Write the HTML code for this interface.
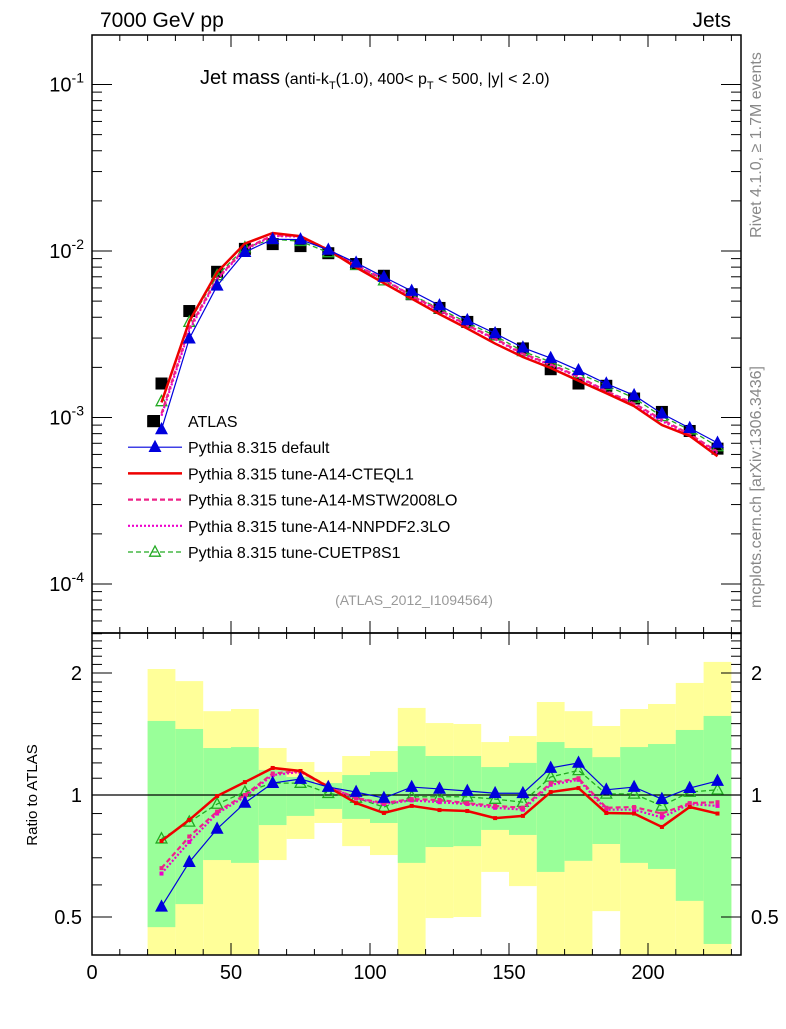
<!DOCTYPE html>
<html><head><meta charset="utf-8"><style>
body{margin:0;background:#fff;}
svg{font-family:"Liberation Sans",Arial,sans-serif;}
</style></head><body>
<svg id="c" width="786" height="1024" viewBox="0 0 786 1024" xmlns="http://www.w3.org/2000/svg">
<text x="100" y="27" font-size="21">7000 GeV pp</text>
<text x="731" y="27" font-size="21" text-anchor="end">Jets</text>
<text transform="translate(761,145) rotate(-90)" font-size="16" fill="#888" text-anchor="middle">Rivet 4.1.0, ≥ 1.7M events</text>
<text transform="translate(761,487) rotate(-90)" font-size="16" fill="#888" text-anchor="middle">mcplots.cern.ch [arXiv:1306.3436]</text>
<g id="bands"></g><g id="marks"></g><g id="axes"></g>
</svg>
<script>
const xCenters=[25,35,45,55,65,75,85,95,105,115,125,135,145,155,165,175,185,195,205,215,225];
const binLo=[20,30,40,50,60,70,80,90,100,110,120,130,140,150,160,170,180,190,200,210,220];
const atlas=[1.6e-3,4.36e-3,7.5e-3,1.03e-2,1.1e-2,1.07e-2,9.7e-3,8.35e-3,7.1e-3,5.5e-3,4.55e-3,3.75e-3,3.17e-3,2.6e-3,1.95e-3,1.6e-3,1.55e-3,1.3e-3,1.08e-3,8.3e-4,6.5e-4];
const atlasExtraX=[22];
const atlasExtraY=[9.5e-4];
const rDefault=[0.53,0.683,0.825,0.956,1.07,1.095,1.046,1.017,0.983,1.046,1.035,1.023,1.01,1.01,1.166,1.2,1.03,1.046,0.977,1.04,1.083];
const rCTEQ=[0.77,0.868,0.994,1.076,1.166,1.146,1.046,0.955,0.903,0.94,0.918,0.913,0.877,0.888,1.017,1.04,0.903,0.9,0.834,0.934,0.9];
const rMSTW=[0.66,0.79,0.91,1.0,1.13,1.146,1.05,0.983,0.955,0.977,0.972,0.955,0.94,0.93,1.07,1.1,0.93,0.934,0.9,0.955,0.96];
const rNNPDF=[0.64,0.766,0.9,0.99,1.12,1.14,1.05,0.98,0.95,0.97,0.96,0.95,0.93,0.92,1.06,1.09,0.92,0.92,0.88,0.95,0.94];
const rCUETP=[0.78,0.858,0.95,1.017,1.07,1.07,1.01,0.983,0.934,0.99,0.99,0.99,0.977,0.96,1.108,1.15,1.006,1.006,0.94,1.017,1.03];
const yelTop=[2.046,1.91,1.61,1.63,1.306,1.206,1.14,1.248,1.284,1.64,1.505,1.497,1.351,1.398,1.696,1.61,1.48,1.63,1.677,1.89,2.13];
const grnTop=[1.523,1.455,1.306,1.313,1.153,1.108,1.07,1.12,1.14,1.32,1.248,1.248,1.172,1.2,1.351,1.306,1.24,1.313,1.336,1.447,1.567];
const grnBot=[0.472,0.538,0.691,0.68,0.843,0.888,0.924,0.873,0.853,0.68,0.744,0.748,0.82,0.797,0.646,0.688,0.757,0.68,0.657,0.548,0.429];
const yelBot=[0.3,0.3,0.3,0.3,0.691,0.779,0.853,0.748,0.711,0.3,0.497,0.5,0.646,0.596,0.3,0.3,0.517,0.3,0.3,0.3,0.3];
const xTicks=[0,50,100,150,200];

const NS="http://www.w3.org/2000/svg";
const L=92,R=741,T1=35,B1=633,T2=633,B2=955;
const X=v=>L+v*2.78;
const Y1=v=>251-(Math.log10(v)+2)*166.5;
const Y2=r=>795-Math.log2(r)*122;
function el(tag,at,parent){const e=document.createElementNS(NS,tag);for(const k in at)e.setAttribute(k,at[k]);parent.appendChild(e);return e;}
const bands=document.getElementById('bands'),marks=document.getElementById('marks'),axes=document.getElementById('axes');

binLo.forEach((lo,i)=>{
 const x0=X(lo),w=X(lo+10)-x0;
 const yt=Y2(yelTop[i]),yb=Math.min(B2,Y2(yelBot[i]));
 let e=el('rect',{x:x0,y:yt,width:w,height:yb-yt,fill:'#ffff99'},bands);
 
 
 const gt=Y2(grnTop[i]),gb=Math.min(B2,Y2(grnBot[i]));
 e=el('rect',{x:x0,y:gt,width:w,height:gb-gt,fill:'#99ff99'},bands);
 
 
});
let one=el('line',{x1:L,x2:R,y1:Y2(1),y2:Y2(1),stroke:'#000','stroke-width':1.3},bands);



const series=[
 {r:rCUETP,c:'#22aa22',w:1.3,d:'5,3',m:'open',n:'cuetp8s1'},
 {r:rNNPDF,c:'#ee00cc',w:2.2,d:'2,2',m:'none',n:'a14-nnpdf'},
 {r:rMSTW,c:'#ee2288',w:2.2,d:'5,3',m:'none',n:'a14-mstw'},
 {r:rCTEQ,c:'#ee0000',w:2.5,d:'',m:'none',n:'a14-cteql1'},
 {r:rDefault,c:'#0000dd',w:1.2,d:'',m:'fill',n:'default'}
];
function tri(x,y,s,c,fill,parent,name){
 const e=el('polygon',{points:`${x},${y-s} ${x-s*0.9},${y+s*0.7} ${x+s*0.9},${y+s*0.7}`,fill:fill?c:'#fff','fill-opacity':fill?1:0,stroke:c,'stroke-width':1.3},parent);
 
 
}
atlas.forEach((v,i)=>{
 const e=el('rect',{x:X(xCenters[i])-6,y:Y1(v)-6,width:12,height:12,fill:'#000'},marks);
 
 
});
atlasExtraX.forEach((x,i)=>{
 const e=el('rect',{x:X(x)-6,y:Y1(atlasExtraY[i])-6,width:12,height:12,fill:'#000'},marks);
 
 
});
series.forEach(s=>{
 const p1=xCenters.map((x,i)=>X(x)+','+Y1(atlas[i]*s.r[i])).join(' ');
 const p2=xCenters.map((x,i)=>X(x)+','+Y2(s.r[i])).join(' ');
 let e=el('polyline',{points:p1,fill:'none',stroke:s.c,'stroke-width':s.w,'stroke-dasharray':s.d},marks);
 
 
 e=el('polyline',{points:p2,fill:'none',stroke:s.c,'stroke-width':s.w,'stroke-dasharray':s.d},marks);
 
 
 if(s.m!=='none'){
  xCenters.forEach((x,i)=>{
   tri(X(x),Y1(atlas[i]*s.r[i]),6,s.c,s.m==='fill',marks,s.n+'-marker');
   tri(X(x),Y2(s.r[i]),6,s.c,s.m==='fill',marks,s.n+'-ratio-marker');
  });
 } else {
  xCenters.forEach((x,i)=>{
   el('rect',{x:X(x)-2,y:Y2(s.r[i])-2,width:4,height:4,fill:s.c},marks);
  });
 }
});

[[T1,B1],[T2,B2]].forEach(([t,b],k)=>{
 const e=el('rect',{x:L,y:t,width:R-L,height:b-t,fill:'none',stroke:'#000','stroke-width':1.5},axes);
 
 
});
for(let v=0;v<=230;v+=10){
 const maj=v%50===0,len=maj?12:6;
 [[T1,1],[B1,-1],[T2,1],[B2,-1]].forEach(([y,d])=>el('line',{x1:X(v),x2:X(v),y1:y,y2:y+d*len,stroke:'#000'},axes));
}
xTicks.forEach(v=>{
 const t=el('text',{x:X(v),y:979,'font-size':20,'text-anchor':'middle'},axes);t.textContent=v;
 
 
});
for(let dec=-5;dec<=-1;dec++){
 for(let m=1;m<=9;m++){
  const v=m*Math.pow(10,dec),y=Y1(v);
  if(y<T1||y>B1)continue;
  const len=m===1?20:10;
  el('line',{x1:L,x2:L+len,y1:y,y2:y,stroke:'#000'},axes);
  el('line',{x1:R,x2:R-len,y1:y,y2:y,stroke:'#000'},axes);
  if(m===1){
   const t=el('text',{x:L-8,y:y+7,'font-size':20,'text-anchor':'end'},axes);
   t.innerHTML='10<tspan dy="-9" font-size="14">'+dec+'</tspan>';
   
   
  }
 }
}
for(let r=0.4;r<=2.51;r+=0.1){
 const y=Y2(r);if(y<T2||y>B2)continue;
 const rr=Math.round(r*10)/10,maj=(rr===0.5||rr===1||rr===2),len=maj?20:10;
 el('line',{x1:L,x2:L+len,y1:y,y2:y,stroke:'#000'},axes);
 el('line',{x1:R,x2:R-len,y1:y,y2:y,stroke:'#000'},axes);
}
[[0.5,'0.5'],[1,'1'],[2,'2']].forEach(([r,s])=>{
 let t=el('text',{x:L-10,y:Y2(r)+7,'font-size':20,'text-anchor':'end'},axes);t.textContent=s;
 
 
 t=el('text',{x:R+10,y:Y2(r)+7,'font-size':20},axes);t.textContent=s;
 
 
});
let yl=el('text',{transform:'translate(37,795) rotate(-90)','font-size':15,'text-anchor':'middle'},axes);yl.textContent='Ratio to ATLAS';


let ti=el('text',{x:200,y:84,'font-size':20},axes);
ti.innerHTML='Jet mass<tspan font-size="16"> (anti-k<tspan dy="5" font-size="11">T</tspan><tspan dy="-5">(1.0), 400&lt; p</tspan><tspan dy="5" font-size="11">T</tspan><tspan dy="-5"> &lt; 500, |y| &lt; 2.0)</tspan></tspan>';


let an=el('text',{x:414,y:605,'font-size':14,fill:'#999','text-anchor':'middle'},axes);an.textContent='(ATLAS_2012_I1094564)';


const legN=['ATLAS','Pythia 8.315 default','Pythia 8.315 tune-A14-CTEQL1','Pythia 8.315 tune-A14-MSTW2008LO','Pythia 8.315 tune-A14-NNPDF2.3LO','Pythia 8.315 tune-CUETP8S1'];
const legS=[null,series[4],series[3],series[2],series[1],series[0]];
legN.forEach((n,i)=>{
 const y=421+i*26.2;
 const g=el('g',{},axes);
 
 
 const s=legS[i];
 if(!s){el('rect',{x:148,y:y-6,width:12,height:12,fill:'#000'},g);}
 else{
  el('line',{x1:128,x2:182,y1:y,y2:y,stroke:s.c,'stroke-width':s.w,'stroke-dasharray':s.d},g);
  if(s.m!=='none')tri(155,y,6,s.c,s.m==='fill',g,'legend-marker');
 }
 const t=el('text',{x:188,y:y+6,'font-size':16},g);t.textContent=n;
});
</script>
</body></html>
